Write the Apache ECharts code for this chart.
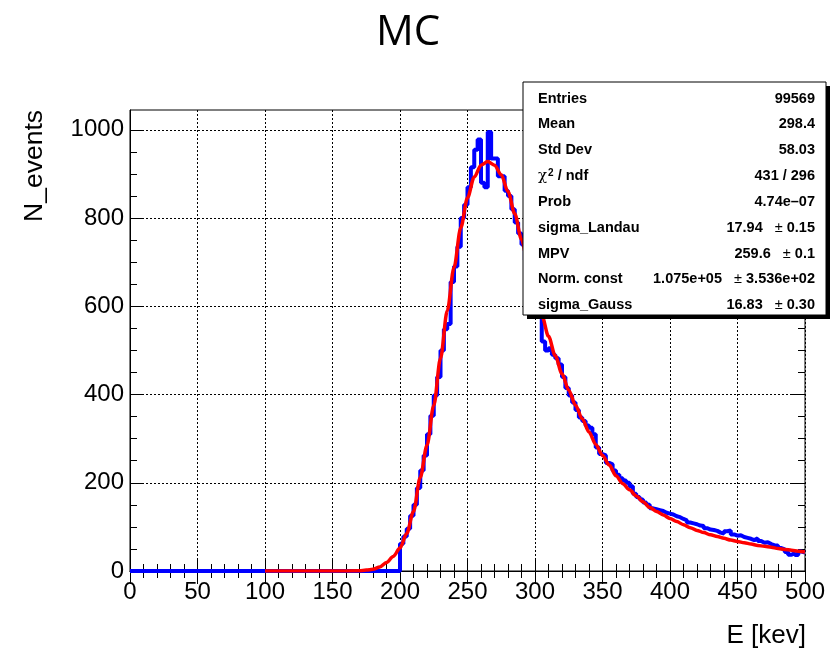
<!DOCTYPE html>
<html><head><meta charset="utf-8">
<script src="https://cdn.jsdelivr.net/npm/echarts@6.0.0/dist/echarts.min.js"></script>
<style>html,body{margin:0;padding:0;background:#fff}#c{width:834px;height:653px}</style>
</head><body><div id="c"></div>
<script>
// ---- data ----
const titleText = 'MC';
const xTitle = 'E [kev]';
const yTitle = 'N_events';
const xRange = [0, 500];
const yRange = [0, 1045];
const xTickValues = [0, 50, 100, 150, 200, 250, 300, 350, 400, 450, 500];
const yTickValues = [0, 200, 400, 600, 800, 1000];
const yMinorStep = 50;

// histogram: first bin low edge, bin width, counts per bin
const binLow = 200;
const binWidth = 2.5;
const counts = [
  62, 78, 96, 125, 150, 188, 228, 262, 310, 352,
  398, 440, 500, 548, 560, 655, 690, 735, 800, 830,
  870, 915, 955, 978, 880, 870, 995, 935, 935, 895,
  895, 862, 850, 820, 790, 765, 740, 705, 680, 650,
  620, 590,
  520, 500, 505, 490, 482, 468, 440, 415, 398, 382,
  365, 348, 340, 330, 325, 310, 280, 265, 262, 245,
  242, 228, 218, 210, 205, 200, 192, 175, 168, 162,
  155, 150, 142, 140, 138, 136, 132, 130, 128, 124,
  122, 118, 115, 110, 108, 106, 103, 102, 97, 94,
  93, 91, 87, 85, 90, 92, 83, 80, 81, 77,
  75, 73, 70, 74, 68, 64, 65, 61, 58, 58,
  52, 49, 43, 37, 41, 36, 44, 42
];

// fit curve (Landau x Gauss) read at sample energies
const fitE = [100, 150, 170, 175, 180, 185, 190, 195, 200, 205, 210, 215, 220, 225, 230, 235, 240, 245, 250,
  255, 260, 265, 270, 275, 280, 285, 290, 295, 300, 305, 310, 315, 320, 325, 330, 335, 340, 345, 350,
  355, 360, 365, 370, 375, 380, 385, 390, 395, 400, 405, 410, 415, 420, 425, 430, 435, 440, 445, 450,
  455, 460, 465, 470, 475, 480, 485, 490, 495, 500];
const fitN = [0, 0, 0.5, 2, 4, 9, 19, 33, 52, 85, 135, 212, 285, 375, 482, 590, 688, 778, 846,
  893, 920, 928, 920, 898, 860, 810, 752, 694, 636, 580, 532, 488, 447, 410, 376, 345, 315, 287, 262,
  240, 216, 198, 184, 170, 157, 144, 135, 127, 119, 112, 105, 98, 92, 87, 82, 78, 74, 70, 67,
  64, 61, 58, 56, 54, 51, 49, 47, 45, 43];

const statLabels = ['Entries', 'Mean', 'Std Dev', 'CHI2', 'Prob', 'sigma_Landau', 'MPV', 'Norm. const', 'sigma_Gauss'];
const statValues = ['99569', '298.4', '58.03', '431 / 296', '4.74e\u201307', '17.94', '259.6', '1.075e+05', '16.83'];
const statErrors = ['', '', '', '', '', '0.15', '0.1', '3.536e+02', '0.30'];

// ---- build ----
const histData = [[xRange[0], 0], [binLow, 0]];
counts.forEach((c, i) => histData.push([binLow + i * binWidth, c]));
histData.push([binLow + counts.length * binWidth, counts[counts.length - 1]]);
const fitData = fitE.map((e, i) => [e, fitN[i]]);

const yMinorValues = [];
for (let v = yTickValues[0]; v <= yTickValues[yTickValues.length - 1]; v += yMinorStep) yMinorValues.push(v);

const FONT = '"Liberation Sans", Arial, sans-serif';
const labelStyle = { color: '#000', fontFamily: FONT, fontSize: 24, formatter: v => String(v) };
const blk = { color: '#000', width: 1 };

function yAx(pos, major, withLabels, withSplit) {
  return {
    type: 'value', position: pos, min: yRange[0], max: yRange[1], interval: 200,
    axisLine: { show: withLabels, lineStyle: blk },
    axisTick: { show: true, inside: true, length: major ? 13 : 7, lineStyle: blk,
      customValues: major ? yTickValues : yMinorValues },
    axisLabel: withLabels ? Object.assign({ show: true, margin: 6, customValues: yTickValues }, labelStyle) : { show: false },
    splitLine: { show: withSplit, lineStyle: { color: '#000', width: 1, type: [2, 2] } },
    minorTick: { show: false }
  };
}
function xAx(pos, withLabels) {
  return {
    type: 'value', position: pos, min: xRange[0], max: xRange[1], interval: 50,
    axisLine: { show: true, lineStyle: blk },
    axisTick: { show: true, inside: true, length: 13, lineStyle: blk },
    minorTick: { show: true, splitNumber: 5, length: 7, lineStyle: blk },
    axisLabel: withLabels ? Object.assign({ show: true, margin: 9, customValues: xTickValues }, labelStyle) : { show: false },
    splitLine: { show: withLabels, lineStyle: { color: '#000', width: 1, type: [2, 2] } }
  };
}

const graphics = [];
graphics.push({ type: 'text', x: 408, y: 33, z: 100,
  style: { text: titleText, font: '42px "Open Sans", "Noto Sans", sans-serif', fill: '#000', textAlign: 'center', textVerticalAlign: 'middle' } });
graphics.push({ type: 'text', x: 35, y: 110, rotation: Math.PI / 2, z: 100,
  style: { text: yTitle, font: '26.5px ' + FONT, fill: '#000', textAlign: 'right', textVerticalAlign: 'middle' } });
graphics.push({ type: 'text', x: 806, y: 636, z: 100,
  style: { text: xTitle, font: '26px ' + FONT, fill: '#000', textAlign: 'right', textVerticalAlign: 'middle' } });

// stats box
const bx = 523, by = 82, bw = 303, bh = 233;
graphics.push({ type: 'rect', z: 100, shape: { x: bx + 4, y: by + 4, width: bw, height: bh }, style: { fill: '#000' } });
graphics.push({ type: 'rect', z: 101, shape: { x: bx, y: by, width: bw, height: bh }, style: { fill: '#fff', stroke: '#000', lineWidth: 1 } });
const rowY0 = 98.5, rowDy = 25.85;
const bold = 'bold 14.5px ' + FONT;
statLabels.forEach((lab, i) => {
  const y = rowY0 + i * rowDy;
  if (lab === 'CHI2') {
    graphics.push({ type: 'text', x: 538, y: y, z: 102, style: {
      text: '{c|\u03C7}{s|2}{b| / ndf}', textVerticalAlign: 'middle', textAlign: 'left', fill: '#000',
      rich: { c: { font: '15px "DejaVu Serif", serif', fill: '#000' },
              s: { font: 'bold 10px ' + FONT, fill: '#000', verticalAlign: 'top', padding: [0, 0, 0, 1] },
              b: { font: bold, fill: '#000' } } } });
  } else {
    graphics.push({ type: 'text', x: 538, y: y, z: 102,
      style: { text: lab, font: bold, fill: '#000', textAlign: 'left', textVerticalAlign: 'middle' } });
  }
  const err = statErrors[i];
  if (err) {
    graphics.push({ type: 'text', x: 815, y: y, z: 102, style: {
      text: '{v|' + statValues[i] + '}{p|   \u00B1 }{v|' + err + '}', textAlign: 'right', textVerticalAlign: 'middle', fill: '#000',
      rich: { v: { font: bold, fill: '#000' }, p: { font: '14.5px ' + FONT, fill: '#000' } } } });
  } else {
    graphics.push({ type: 'text', x: 815, y: y, z: 102,
      style: { text: statValues[i], font: bold, fill: '#000', textAlign: 'right', textVerticalAlign: 'middle' } });
  }
});

const chart = echarts.init(document.getElementById('c'), null, { renderer: 'canvas' });
chart.setOption({
  animation: false,
  backgroundColor: '#fff',
  grid: { left: 130, right: 29, top: 110, bottom: 82, show: true, borderColor: '#000', borderWidth: 1, backgroundColor: 'transparent' },
  xAxis: [xAx('bottom', true), xAx('top', false)],
  yAxis: [yAx('left', true, true, true), yAx('left', false, false, false), yAx('right', true, false, false), yAx('right', false, false, false)],
  series: [
    { type: 'line', name: 'hist', xAxisIndex: 0, yAxisIndex: 0, data: histData, step: 'end', symbol: 'none',
      lineStyle: { color: '#0000ff', width: 4 }, z: 2 },
    { type: 'line', name: 'fit', xAxisIndex: 0, yAxisIndex: 0, data: fitData, smooth: 0.3, smoothMonotone: 'x', symbol: 'none',
      lineStyle: { color: '#ff0000', width: 3.5 }, z: 3 }
  ],
  graphic: graphics
});
</script></body></html>
